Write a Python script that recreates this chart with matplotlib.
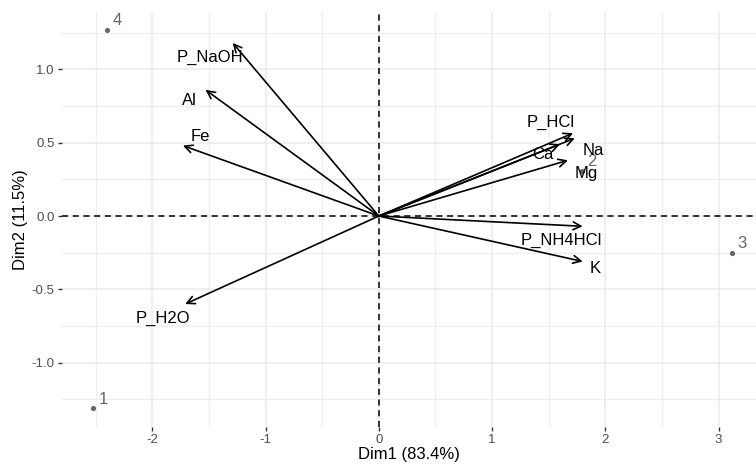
import matplotlib
matplotlib.use("Agg")
import matplotlib.pyplot as plt

plt.rcParams['font.family'] = ['Liberation Sans', 'DejaVu Sans']
plt.rcParams['axes.unicode_minus'] = False

# Individuals (scores)
ind_names = ["1", "2", "3", "4"]
ind_x = [-2.52, 1.79, 3.12, -2.40]
ind_y = [-1.31, 0.31, -0.25, 1.27]

# Variables (arrow tips)
var_names = ["P_NaOH", "Al", "Fe", "P_H2O", "P_HCl", "Na", "Ca", "Mg", "P_NH4HCl", "K"]
var_x = [-1.29, -1.53, -1.73, -1.71, 1.715, 1.73, 1.60, 1.67, 1.80, 1.80]
var_y = [1.18, 0.86, 0.48, -0.60, 0.565, 0.53, 0.49, 0.38, -0.07, -0.31]
# Label positions (repelled)
lab_x = [-1.49, -1.67, -1.58, -1.91, 1.515, 1.89, 1.45, 1.83, 1.61, 1.91]
lab_y = [1.084, 0.79, 0.545, -0.695, 0.64, 0.445, 0.416, 0.291, -0.164, -0.361]

xlabel = "Dim1 (83.4%)"
ylabel = "Dim2 (11.5%)"

fig = plt.figure(figsize=(7.56, 4.66), dpi=100)
ax = fig.add_axes([0.0816, 0.0843, 0.9184, 0.8907])
ax.set_xlim(-2.80, 3.33)
ax.set_ylim(-1.436, 1.393)

ax.set_xticks([-2, -1, 0, 1, 2, 3])
ax.set_xticks([-2.5, -1.5, -0.5, 0.5, 1.5, 2.5], minor=True)
ax.set_xticklabels(["-2", "-1", "0", "1", "2", "3"])
ax.set_yticks([-1.0, -0.5, 0.0, 0.5, 1.0])
ax.set_yticks([-1.25, -0.75, -0.25, 0.25, 0.75, 1.25], minor=True)
ax.set_yticklabels(["-1.0", "-0.5", "0.0", "0.5", "1.0"])
ax.grid(which='major', color='#EBEBEB', linewidth=1.1)
ax.grid(which='minor', color='#EEEEEE', linewidth=0.9)
ax.set_axisbelow(True)
for s in ax.spines.values():
    s.set_visible(False)
ax.tick_params(which='major', length=3, width=1, color='#333333', labelcolor='#4D4D4D', labelsize=9.5, pad=2)
ax.tick_params(which='minor', length=0)

ax.axhline(0, color='black', linestyle=(0, (4, 3)), linewidth=1.1, zorder=2)
ax.axvline(0, color='black', linestyle=(0, (4, 3)), linewidth=1.1, zorder=2)

ax.scatter(ind_x, ind_y, s=14, color='#666666', zorder=3, linewidths=0)
for n, x, y in zip(ind_names, ind_x, ind_y):
    ax.annotate(n, (x, y), xytext=(4, 1), textcoords='offset points',
                color='#666666', fontsize=12, ha='left', va='bottom', zorder=3)

for n, x, y, lx, ly in zip(var_names, var_x, var_y, lab_x, lab_y):
    ax.annotate("", xy=(x, y), xytext=(0, 0),
                arrowprops=dict(arrowstyle='->', color='black', lw=1.2,
                                mutation_scale=14, shrinkA=0, shrinkB=0),
                zorder=4)
    ax.text(lx, ly, n, color='black', fontsize=12, ha='center', va='center', zorder=5)

ax.set_xlabel(xlabel, fontsize=12, color='black', labelpad=1)
ax.set_ylabel(ylabel, fontsize=12, color='black', labelpad=3)

fig.savefig("out.png", dpi=100)
